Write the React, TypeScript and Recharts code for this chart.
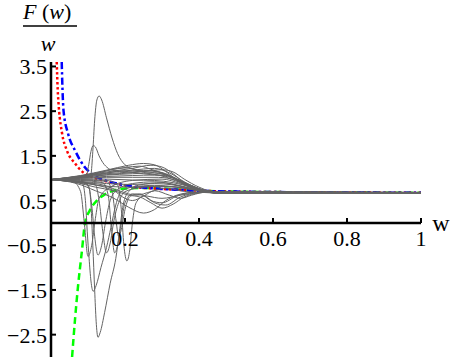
import React from 'react';
import { LineChart, Line, XAxis, YAxis, ReferenceLine, ReferenceDot } from 'recharts';

// tick values
const xTicks = [0.2, 0.4, 0.6, 0.8, 1];
const xTickLabels = ['0.2', '0.4', '0.6', '0.8', '1'];
const yTicks = [3.5, 2.5, 1.5, 0.5, -0.5, -1.5, -2.5];
const yTickLabels = ['3.5', '2.5', '1.5', '0.5', '\u22120.5', '\u22121.5', '\u22122.5'];

// converged tails of the gray family (w, F(w)/w), upper / middle / lower edge of the band
const tailHi: [number, number][] = [[0.45, 0.7], [0.5, 0.695], [0.6, 0.688], [0.8, 0.683], [1, 0.68]];
const tailMid: [number, number][] = [[0.45, 0.685], [0.5, 0.68], [0.6, 0.675], [0.8, 0.672], [1, 0.67]];
const tailLo: [number, number][] = [[0.45, 0.665], [0.5, 0.663], [0.6, 0.66], [0.8, 0.66], [1, 0.66]];
const tails = [tailHi, tailMid, tailLo];

// upper bundle
const u1: [number, number][] = [[0, 0.97], [0.08, 1.06], [0.15, 1.18], [0.21, 1.29], [0.25, 1.33], [0.28, 1.3], [0.31, 1.15], [0.35, 0.9], [0.38, 0.78], [0.41, 0.7]];
const u2: [number, number][] = [[0, 0.97], [0.08, 1.05], [0.15, 1.14], [0.22, 1.22], [0.27, 1.29], [0.3, 1.25], [0.33, 1.1], [0.36, 0.9], [0.39, 0.77], [0.42, 0.7]];
const u3: [number, number][] = [[0, 0.97], [0.08, 1.04], [0.15, 1.12], [0.22, 1.18], [0.28, 1.22], [0.32, 1.12], [0.36, 0.92], [0.4, 0.75], [0.43, 0.7]];
const u4: [number, number][] = [[0, 0.97], [0.08, 1.03], [0.15, 1.1], [0.22, 1.14], [0.27, 1.17], [0.31, 1.1], [0.35, 0.95], [0.39, 0.8], [0.42, 0.71]];
const u5: [number, number][] = [[0, 0.97], [0.08, 1.02], [0.15, 1.07], [0.22, 1.1], [0.28, 1.12], [0.32, 1.05], [0.36, 0.9], [0.4, 0.76], [0.43, 0.7]];
const u6: [number, number][] = [[0, 0.97], [0.08, 1.01], [0.15, 1.04], [0.22, 1.06], [0.28, 1.07], [0.33, 1.0], [0.37, 0.87], [0.41, 0.74]];
const u7: [number, number][] = [[0, 0.97], [0.08, 1.0], [0.15, 1.02], [0.22, 1.02], [0.29, 1.02], [0.34, 0.95], [0.38, 0.83], [0.42, 0.72]];
const u8: [number, number][] = [[0, 0.97], [0.08, 1.03], [0.13, 1.12], [0.18, 1.22], [0.21, 1.23], [0.25, 1.13], [0.3, 1.05], [0.35, 0.9], [0.4, 0.74]];
const u9: [number, number][] = [[0, 0.97], [0.08, 0.99], [0.15, 0.98], [0.22, 0.96], [0.28, 0.95], [0.33, 0.9], [0.38, 0.8], [0.42, 0.72]];
const u10: [number, number][] = [[0, 0.97], [0.08, 1.05], [0.14, 1.15], [0.2, 1.24], [0.24, 1.27], [0.27, 1.2], [0.31, 1.08], [0.35, 0.92], [0.39, 0.78], [0.42, 0.71]];
const u11: [number, number][] = [[0, 0.97], [0.08, 1.02], [0.15, 1.08], [0.23, 1.13], [0.3, 1.19], [0.33, 1.14], [0.36, 0.98], [0.4, 0.8], [0.43, 0.71]];
const u12: [number, number][] = [[0, 0.97], [0.08, 1.04], [0.14, 1.1], [0.19, 1.16], [0.23, 1.12], [0.27, 1.08], [0.31, 1.06], [0.35, 0.94], [0.39, 0.79], [0.42, 0.71]];

// middle and lower
const m1: [number, number][] = [[0, 0.97], [0.08, 0.93], [0.15, 0.88], [0.22, 0.86], [0.28, 0.88], [0.33, 0.85], [0.38, 0.77], [0.42, 0.71]];
const m2: [number, number][] = [[0, 0.97], [0.08, 0.9], [0.15, 0.82], [0.22, 0.8], [0.28, 0.82], [0.34, 0.8], [0.39, 0.74], [0.43, 0.7]];
const m3: [number, number][] = [[0, 0.97], [0.08, 0.91], [0.14, 0.85], [0.19, 0.7], [0.23, 0.62], [0.27, 0.7], [0.31, 0.78], [0.35, 0.72], [0.39, 0.68], [0.43, 0.69]];
const l1: [number, number][] = [[0, 0.97], [0.07, 0.88], [0.12, 0.72], [0.17, 0.55], [0.21, 0.35], [0.25, 0.22], [0.28, 0.3], [0.31, 0.5], [0.34, 0.62], [0.38, 0.68], [0.42, 0.69]];
const l2: [number, number][] = [[0, 0.97], [0.07, 0.9], [0.12, 0.8], [0.17, 0.72], [0.21, 0.62], [0.24, 0.58], [0.27, 0.45], [0.3, 0.33], [0.33, 0.42], [0.36, 0.58], [0.4, 0.67], [0.43, 0.69]];
const l3: [number, number][] = [[0, 0.97], [0.07, 0.91], [0.12, 0.85], [0.17, 0.72], [0.2, 0.55], [0.22, 0.5], [0.25, 0.6], [0.28, 0.72], [0.32, 0.62], [0.35, 0.55], [0.38, 0.62], [0.42, 0.69]];

// spikes
const spikeA: [number, number][] = [[0, 0.97], [0.06, 1.0], [0.1, 1.03], [0.108, 1.1], [0.113, 1.6], [0.118, 2.3], [0.124, 2.75], [0.13, 2.84], [0.137, 2.75], [0.15, 2.35], [0.165, 1.9], [0.18, 1.55], [0.2, 1.3], [0.23, 1.18], [0.28, 1.12], [0.32, 1.05], [0.36, 0.88], [0.4, 0.74]];
const spikeB: [number, number][] = [[0, 0.97], [0.06, 1.0], [0.095, 1.05], [0.102, 1.3], [0.108, 1.6], [0.114, 1.73], [0.12, 1.7], [0.13, 1.5], [0.14, 1.35], [0.155, 1.22], [0.17, 1.17], [0.2, 1.16], [0.25, 1.17], [0.3, 1.12], [0.34, 0.97], [0.38, 0.8], [0.42, 0.71]];

// dives below zero
const diveC: [number, number][] = [[0, 0.97], [0.05, 0.95], [0.09, 0.9], [0.104, 0.75], [0.108, 0.4], [0.113, -0.5], [0.118, -1.5], [0.122, -2.2], [0.127, -2.56], [0.133, -2.45], [0.145, -2.0], [0.16, -1.35], [0.175, -0.8], [0.185, -0.2], [0.195, 0.4], [0.21, 0.7], [0.24, 0.85], [0.3, 0.9], [0.35, 0.82], [0.4, 0.72]];
const diveD: [number, number][] = [[0, 0.97], [0.05, 0.94], [0.085, 0.88], [0.093, 0.5], [0.098, -0.2], [0.103, -0.8], [0.108, -1.3], [0.114, -1.53], [0.122, -1.4], [0.135, -1.0], [0.15, -0.55], [0.162, -0.1], [0.175, 0.4], [0.19, 0.7], [0.22, 0.8], [0.28, 0.84], [0.34, 0.8], [0.4, 0.72]];
const s1: [number, number][] = [[0, 0.97], [0.06, 0.92], [0.08, 0.7], [0.09, 0.0], [0.1, -0.75], [0.11, -0.5], [0.12, 0.1], [0.13, 0.55], [0.16, 0.8], [0.22, 0.95], [0.3, 0.98], [0.35, 0.88], [0.4, 0.74]];
const s2: [number, number][] = [[0, 0.97], [0.07, 0.93], [0.1, 0.85], [0.11, 0.4], [0.118, -0.3], [0.127, -0.72], [0.137, -0.5], [0.147, 0.0], [0.16, 0.5], [0.18, 0.75], [0.22, 0.88], [0.28, 0.92], [0.34, 0.85], [0.4, 0.73]];
const s3: [number, number][] = [[0, 0.97], [0.08, 0.92], [0.12, 0.85], [0.13, 0.5], [0.14, -0.2], [0.15, -0.67], [0.16, -0.45], [0.17, 0.05], [0.185, 0.5], [0.2, 0.7], [0.25, 0.8], [0.3, 0.82], [0.36, 0.78], [0.41, 0.71]];
const s4: [number, number][] = [[0, 0.97], [0.08, 0.95], [0.14, 0.9], [0.155, 0.6], [0.163, -0.1], [0.172, -0.67], [0.18, -0.5], [0.19, 0.0], [0.2, 0.45], [0.22, 0.65], [0.26, 0.6], [0.3, 0.55], [0.35, 0.62], [0.4, 0.68]];
const s5: [number, number][] = [[0, 0.97], [0.08, 0.96], [0.15, 0.93], [0.165, 0.7], [0.175, 0.1], [0.183, -0.3], [0.19, -0.15], [0.2, 0.3], [0.215, 0.6], [0.24, 0.65], [0.27, 0.5], [0.3, 0.45], [0.34, 0.6], [0.39, 0.69]];
const s6: [number, number][] = [[0, 0.97], [0.08, 0.97], [0.15, 0.95], [0.18, 0.85], [0.19, 0.3], [0.197, -0.5], [0.205, -0.85], [0.213, -0.6], [0.22, 0.0], [0.23, 0.45], [0.25, 0.6], [0.28, 0.45], [0.31, 0.4], [0.35, 0.58], [0.4, 0.68]];

const grayCurves = [u1, u2, u3, u4, u5, u6, u7, u8, u9, u10, u11, u12, m1, m2, m3, l1, l2, l3, spikeA, spikeB, diveC, diveD, s1, s2, s3, s4, s5, s6];

// asymptotic curves
const red: [number, number][] = [[0.0155, 3.6], [0.018, 3.0], [0.021, 2.6], [0.03, 2.0], [0.043, 1.62], [0.065, 1.33], [0.087, 1.13], [0.11, 1.03], [0.14, 0.95], [0.18, 0.87], [0.22, 0.81], [0.3, 0.76], [0.4, 0.72], [0.5, 0.7], [0.7, 0.685], [1, 0.675]];
const blue: [number, number][] = [[0.029, 3.6], [0.031, 3.0], [0.034, 2.5], [0.046, 2.0], [0.065, 1.62], [0.092, 1.24], [0.105, 1.13], [0.13, 1.0], [0.16, 0.92], [0.2, 0.84], [0.25, 0.79], [0.3, 0.76], [0.4, 0.72], [0.5, 0.7], [0.7, 0.685], [1, 0.675]];
const green: [number, number][] = [[0.057, -3.0], [0.065, -2.15], [0.073, -1.42], [0.083, -0.67], [0.092, 0.0], [0.105, 0.28], [0.124, 0.5], [0.146, 0.64], [0.168, 0.72], [0.2, 0.77], [0.25, 0.78], [0.3, 0.77], [0.4, 0.72], [0.5, 0.7], [0.7, 0.685], [1, 0.675]];

const toRows = (pts: [number, number][]) => pts.map(([w, v]) => ({ w, v }));

const FONT = 'Liberation Serif';

const App: React.FC = () => {
  return (
    <div style={{ position: 'absolute', left: 0, top: 0, width: 450, height: 362, background: '#fff' }}>
      <LineChart width={450} height={362} margin={{ top: 62, right: 29, bottom: 5, left: 51 }}>
        <XAxis type="number" dataKey="w" domain={[0, 1]} hide allowDataOverflow />
        <YAxis type="number" domain={[-3, 3.6]} hide allowDataOverflow />
        <Line data={toRows(green)} dataKey="v" type="monotone" stroke="#00ff00" strokeWidth={2.5} strokeDasharray="7 4" dot={false} isAnimationActive={false} />
        <Line data={toRows(red)} dataKey="v" type="monotone" stroke="#ff0000" strokeWidth={2.5} strokeDasharray="2.5 2.5" dot={false} isAnimationActive={false} />
        <Line data={toRows(blue)} dataKey="v" type="monotone" stroke="#0000ff" strokeWidth={2.5} strokeDasharray="7 3 2.5 3" dot={false} isAnimationActive={false} />
        {grayCurves.map((c, i) => (
          <Line
            key={`g-${i}`}
            data={toRows([...c, ...tails[i % 3]])}
            dataKey="v"
            type="monotone"
            stroke="#646464"
            strokeWidth={1}
            dot={false}
            isAnimationActive={false}
          />
        ))}
        <ReferenceLine x={0} stroke="#000" strokeWidth={2.5} />
        <ReferenceLine y={0} stroke="#000" strokeWidth={2.5} />
        {xTicks.map((t, i) => (
          <ReferenceDot
            key={`xt-${t}`}
            x={t}
            y={0}
            r={0}
            shape={(p: any) => (
              <g>
                <line x1={p.cx} x2={p.cx} y1={p.cy} y2={p.cy - 5} stroke="#000" strokeWidth={2} />
                <text x={p.cx} y={p.cy + 23} textAnchor="middle" fontFamily={FONT} fontSize={22} fill="#000">
                  {xTickLabels[i]}
                </text>
              </g>
            )}
          />
        ))}
        {yTicks.map((t, i) => (
          <ReferenceDot
            key={`yt-${t}`}
            x={0}
            y={t}
            r={0}
            shape={(p: any) => (
              <g>
                <line x1={p.cx} x2={p.cx + 5} y1={p.cy} y2={p.cy} stroke="#000" strokeWidth={2} />
                <text x={p.cx - 4} y={p.cy + 8} textAnchor="end" fontFamily={FONT} fontSize={22} fill="#000">
                  {yTickLabels[i]}
                </text>
              </g>
            )}
          />
        ))}
      </LineChart>
      <svg width={450} height={362} style={{ position: 'absolute', left: 0, top: 0, pointerEvents: 'none' }}>
        <text x={23} y={19} fontFamily={FONT} fontSize={22} fill="#000">
          <tspan fontStyle="italic">F</tspan>
          <tspan> (</tspan>
          <tspan fontStyle="italic">w</tspan>
          <tspan>)</tspan>
        </text>
        <line x1={23} x2={77} y1={26} y2={26} stroke="#000" strokeWidth={1.5} />
        <text x={48} y={51} textAnchor="middle" fontFamily={FONT} fontSize={22} fontStyle="italic" fill="#000">w</text>
        <text x={441} y={231} textAnchor="middle" fontFamily={FONT} fontSize={24} fill="#000">w</text>
      </svg>
    </div>
  );
};

export default App;
